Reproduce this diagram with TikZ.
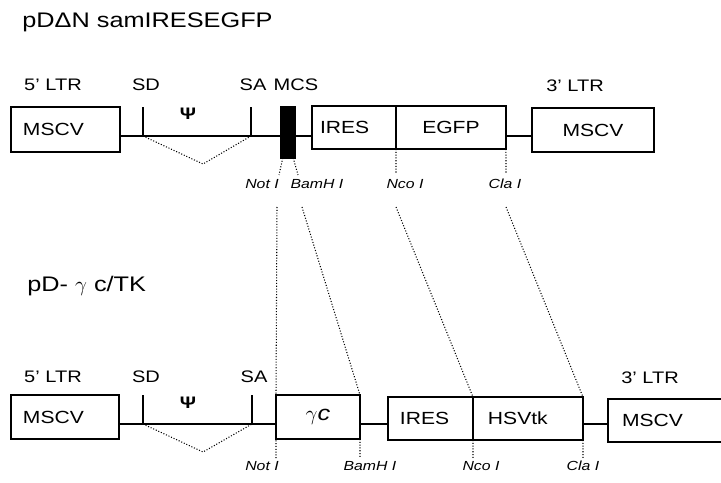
\documentclass[tikz,border=0pt]{standalone}
\usepackage{fontspec}
\setmainfont{Liberation Sans}[FakeStretch=1.2]
\usetikzlibrary{positioning}
\tikzset{
  seg/.style={draw, line width=0.9pt, inner sep=0pt, outer sep=0pt, minimum height=0.88cm, font=\fontsize{10}{12}\selectfont},
  lseg/.style={seg, align=left, inner xsep=0.24cm},
  tag/.style={font=\fontsize{9.5}{11}\selectfont, inner sep=0pt, anchor=base},
  site/.style={font=\fontsize{7.5}{9}\selectfont\itshape, inner sep=0pt, anchor=base},
  title/.style={font=\fontsize{12}{14}\selectfont, inner sep=0pt, anchor=base west},
  psi/.style={font=\fontsize{9.5}{10}\selectfont\bfseries, inner sep=0pt, anchor=base},
  bb/.style={line width=0.9pt},
  cut/.style={densely dotted, line width=0.6pt},
}
\begin{document}
\begin{tikzpicture}[x=0.02cm, y=-0.02cm]
\useasboundingbox (0,0) rectangle (721,483);

% parent vector
\node[title] (tA) at (22,28) {pDΔN samIRESEGFP};
\node[tag] (ltr5A) at (53,91) {5' LTR};
\node[tag] (sdtA) at (146,91) {SD};
\node[tag] (satA) at (253,91) {SA};
\node[tag] (mcstA) at (296,91) {MCS};
\node[tag] (ltr3A) at (575,92) {3' LTR};
\node[lseg, anchor=north west, minimum width=2.18cm, minimum height=0.9cm, text width=1.70cm] (mscvA) at (11,107) {MSCV};
\node[seg, fill=black, anchor=north west, minimum width=0.28cm, minimum height=1.02cm] (mcs) at (281,107) {};
\node[lseg, anchor=north west, minimum width=1.68cm, minimum height=0.86cm, inner xsep=0.16cm, text width=1.36cm] (iresA) at (312,106) {IRES};
\node[seg, right=0pt of iresA, minimum width=2.2cm, minimum height=0.86cm] (egfp) {EGFP};
\node[seg, anchor=north west, minimum width=2.44cm] (mscvB) at (532,108) {MSCV};
\coordinate (sdA) at (143,136);
\coordinate (saA) at (251,136);
\coordinate (vA) at (203,164);
\node[psi] (psiA) at (188,120) {Ψ};
\draw[bb] (mscvA.east |- sdA) -- (mcs.west |- sdA);
\draw[bb] (mcs.east |- sdA) -- (iresA.west |- sdA);
\draw[bb] (egfp.east |- sdA) -- (mscvB.west |- sdA);
\draw[bb] (sdA) -- (sdA |- mscvA.north);
\draw[bb] (saA) -- (saA |- mscvA.north);
\draw[cut] (sdA) -- (vA) -- (saA);

% restriction sites, parent
\coordinate (notA) at (279,175);
\coordinate (bamA) at (298,175);
\coordinate (ncoA) at (396,173);
\coordinate (claA) at (506,173);
\draw[cut] ([xshift=1pt]mcs.south west) -- (notA);
\draw[cut] ([xshift=-1pt]mcs.south east) -- (bamA);
\draw[cut] (iresA.south east) -- (ncoA);
\draw[cut] (egfp.south east) -- (claA);
\node[site] (notTA) at (262,189) {Not I};
\node[site] (bamTA) at (317,189) {BamH I};
\node[site] (ncoTA) at (405,189) {Nco I};
\node[site] (claTA) at (505,189) {Cla I};

% derived vector
\node[title] (tB) at (27,292) {pD- $\gamma$ c/TK};
\node[tag] (ltr5B) at (53,382) {5' LTR};
\node[tag] (sdtB) at (146,382) {SD};
\node[tag] (satB) at (254,382) {SA};
\node[tag] (ltr3B) at (650,383) {3' LTR};
\node[lseg, anchor=north west, minimum width=2.16cm, text width=1.68cm] (mscvC) at (11,395) {MSCV};
\node[seg, anchor=north west, minimum width=1.68cm, font=\fontsize{12}{14}\selectfont] (gc) at (276,395) {$\gamma$\textit{c}};
\node[lseg, anchor=north west, minimum width=1.7cm, minimum height=0.86cm, text width=1.22cm] (iresB) at (388,397) {IRES};
\node[lseg, right=0pt of iresB, minimum width=2.2cm, minimum height=0.86cm, inner xsep=0.3cm, text width=1.6cm] (tk) {HSVtk};
\node[lseg, anchor=north west, minimum width=2.54cm, minimum height=0.86cm, inner xsep=0.28cm, text width=1.98cm] (mscvD) at (608,399) {MSCV};
\coordinate (sdB) at (143,424);
\coordinate (saB) at (252,424);
\coordinate (vB) at (203,452);
\node[psi] (psiB) at (188,408) {Ψ};
\draw[bb] (mscvC.east |- sdB) -- (gc.west |- sdB);
\draw[bb] (gc.east |- sdB) -- (iresB.west |- sdB);
\draw[bb] (tk.east |- sdB) -- (mscvD.west |- sdB);
\draw[bb] (sdB) -- (sdB |- mscvC.north);
\draw[bb] (saB) -- (saB |- mscvC.north);
\draw[cut] (sdB) -- (vB) -- (saB);

% fragments carried across
\coordinate (notU) at (277,207);
\coordinate (bamU) at (302,207);
\coordinate (ncoU) at (396,207);
\coordinate (claU) at (506,207);
\coordinate (notB) at (276,458);
\coordinate (bamB) at (360,458);
\coordinate (ncoB) at (473,458);
\coordinate (claB) at (583,458);
\draw[cut] (notU) -- (gc.north west) -- (notB);
\draw[cut] (bamU) -- (gc.north east);
\draw[cut] (gc.south east) -- (bamB);
\draw[cut] (ncoU) -- (tk.north west);
\draw[cut] (tk.south west) -- (ncoB);
\draw[cut] (claU) -- (tk.north east);
\draw[cut] (tk.south east) -- (claB);
\node[site] (notTB) at (262,470) {Not I};
\node[site] (bamTB) at (370,470) {BamH I};
\node[site] (ncoTB) at (481,470) {Nco I};
\node[site] (claTB) at (583,470) {Cla I};
\end{tikzpicture}
\end{document}
